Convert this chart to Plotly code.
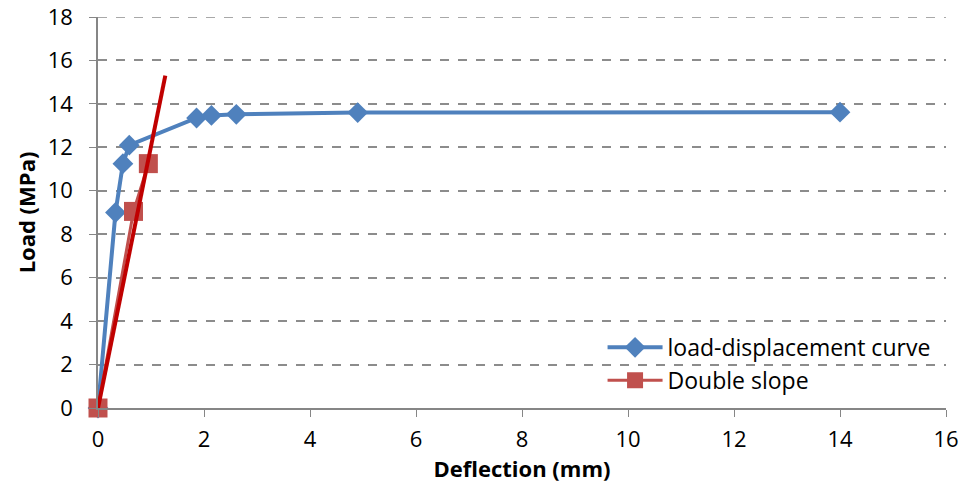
import plotly.graph_objects as go

# Data
curve_x = [0, 0.33, 0.47, 0.59, 1.86, 2.14, 2.61, 4.9, 14.0]
curve_y = [0, 9.0, 11.25, 12.1, 13.35, 13.47, 13.52, 13.6, 13.62]
slope_x = [0, 0.67, 0.95]
slope_y = [0, 9.05, 11.25]
trend_x = [0, 1.27]
trend_y = [0, 15.3]
x_ticks = [0, 2, 4, 6, 8, 10, 12, 14, 16]
y_ticks = [0, 2, 4, 6, 8, 10, 12, 14, 16, 18]

FONT = "Open Sans"

fig = go.Figure()
fig.add_trace(go.Scatter(
    x=curve_x, y=curve_y, mode="lines+markers", name="load-displacement curve",
    line=dict(color="#4F81BD", width=4),
    marker=dict(symbol="diamond", size=16, color="#4F81BD"),
    cliponaxis=False,
))
fig.add_trace(go.Scatter(
    x=slope_x, y=slope_y, mode="lines+markers", name="Double slope",
    line=dict(color="#C0504D", width=3),
    marker=dict(symbol="square", size=19, color="#C0504D"),
    cliponaxis=False,
))
fig.add_trace(go.Scatter(
    x=trend_x, y=trend_y, mode="lines", showlegend=False,
    line=dict(color="#C00000", width=4),
    cliponaxis=False,
))

# dashed gridline at the top tick (plotly omits gridlines on the plot edge)
fig.add_shape(type="line", xref="paper", x0=0, x1=1, yref="y",
              y0=y_ticks[-1], y1=y_ticks[-1],
              line=dict(color="#8C8C8C", width=1.5, dash="dash"), layer="below")

fig.update_layout(
    width=966, height=486,
    margin=dict(l=98, r=20, t=17, b=78, autoexpand=False),
    plot_bgcolor="white", paper_bgcolor="white",
    font=dict(family=FONT, size=22, color="black"),
    legend=dict(
        x=0.595, y=0.21, xanchor="left", yanchor="top",
        bgcolor="rgba(255,255,255,0)",
        font=dict(family=FONT, size=23, color="black"),
        itemwidth=55,
    ),
    xaxis=dict(
        range=[0, 16], tickvals=x_ticks, showgrid=False, zeroline=False,
        showline=True, linecolor="#868686", linewidth=1.5,
        ticks="outside", ticklen=7, tickcolor="#868686",
        tickfont=dict(family=FONT, size=22), ticklabelstandoff=4,
        ticklabeloverflow="allow", automargin=False,
        title=dict(text="<b>Deflection (mm)</b>", font=dict(family=FONT, size=22), standoff=0),
    ),
    yaxis=dict(
        range=[0, 18], tickvals=y_ticks, showgrid=True, gridcolor="#8C8C8C",
        griddash="dash", gridwidth=1.5, zeroline=False,
        showline=True, linecolor="#868686", linewidth=1.5,
        ticks="outside", ticklen=7, tickcolor="#868686",
        tickfont=dict(family=FONT, size=22), ticklabelstandoff=12,
        ticklabeloverflow="allow", automargin=False,
        title=dict(text="<b>Load (MPa)</b>", font=dict(family=FONT, size=22), standoff=6),
    ),
)

fig.write_html("out.html")
